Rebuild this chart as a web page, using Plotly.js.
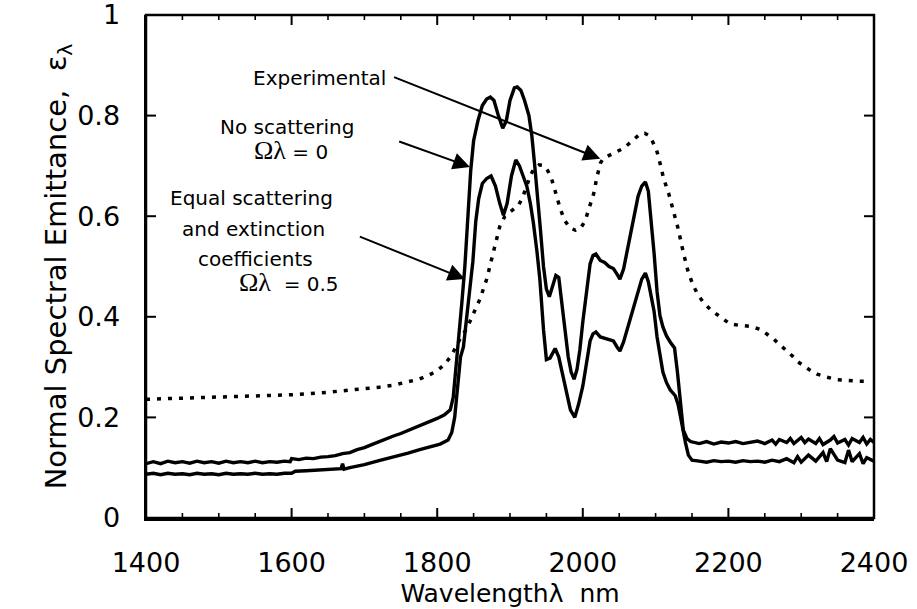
<!DOCTYPE html>
<html>
<head>
<meta charset="utf-8">
<script src="https://cdn.plot.ly/plotly-3.0.1.min.js"></script>
<style>html,body{margin:0;padding:0;background:#fff;}#chart{width:917px;height:609px;}</style>
</head>
<body>
<div id="chart"></div>
<script>
// ---- Data ----
const xTickVals = [1400, 1600, 1800, 2000, 2200, 2400];
const yTickVals = [0, 0.2, 0.4, 0.6, 0.8, 1];
const xMinorStep = 50;

// No scattering, Omega_lambda = 0 (upper solid curve)
const noScatX = [1400,1410,1420,1430,1440,1450,1460,1470,1480,1490,1500,1510,1520,1530,1540,1550,1560,1570,1580,1590,1598,1600,1610,1620,1630,1640,1650,1660,1670,1680,1690,1700,1710,1720,1730,1740,1750,1760,1770,1780,1790,1800,1810,1818,1822,1826,1830,1834,1838,1842,1846,1850,1856,1862,1868,1873,1878,1884,1890,1895,1900,1906,1910,1915,1920,1926,1930,1934,1938,1942,1946,1950,1954,1958,1963,1967,1971,1975,1980,1984,1988,1992,1996,2000,2005,2010,2014,2018,2024,2030,2036,2042,2047,2051,2056,2061,2066,2071,2076,2081,2086,2090,2094,2098,2102,2106,2110,2115,2120,2126,2130,2134,2138,2143,2148,2160,2170,2180,2190,2200,2210,2220,2230,2240,2250,2260,2265,2270,2280,2285,2290,2300,2305,2310,2320,2325,2330,2340,2345,2350,2360,2365,2370,2380,2385,2390,2395,2400];
const noScatY = [0.108,0.112,0.108,0.113,0.110,0.112,0.109,0.113,0.110,0.112,0.109,0.113,0.110,0.112,0.110,0.113,0.110,0.112,0.111,0.113,0.112,0.118,0.116,0.119,0.118,0.121,0.122,0.124,0.128,0.130,0.136,0.140,0.146,0.152,0.157,0.163,0.168,0.174,0.179,0.186,0.192,0.198,0.205,0.215,0.240,0.300,0.360,0.430,0.500,0.600,0.690,0.750,0.790,0.820,0.833,0.837,0.830,0.800,0.775,0.790,0.830,0.855,0.857,0.850,0.830,0.800,0.760,0.700,0.640,0.570,0.500,0.455,0.440,0.460,0.482,0.478,0.430,0.380,0.320,0.290,0.276,0.295,0.335,0.390,0.450,0.505,0.522,0.525,0.512,0.508,0.500,0.496,0.485,0.475,0.495,0.530,0.565,0.600,0.640,0.660,0.668,0.650,0.590,0.525,0.450,0.402,0.380,0.362,0.350,0.338,0.290,0.230,0.175,0.158,0.152,0.148,0.152,0.147,0.151,0.149,0.152,0.148,0.150,0.153,0.148,0.155,0.147,0.156,0.150,0.158,0.148,0.160,0.150,0.157,0.148,0.158,0.146,0.155,0.162,0.149,0.156,0.145,0.158,0.150,0.160,0.147,0.156,0.150];

// Equal scattering and extinction coefficients, Omega_lambda = 0.5 (lower solid curve)
const eqScatX = [1400,1410,1420,1430,1440,1450,1460,1470,1480,1490,1500,1510,1520,1530,1540,1550,1560,1570,1580,1590,1600,1605,1620,1640,1660,1668,1670,1672,1680,1700,1720,1740,1760,1776,1790,1804,1815,1820,1824,1828,1832,1836,1840,1845,1849,1853,1857,1862,1868,1874,1880,1886,1891,1896,1902,1908,1913,1918,1923,1928,1932,1937,1941,1946,1950,1955,1962,1967,1973,1978,1983,1989,1994,2000,2005,2010,2014,2018,2024,2030,2036,2042,2047,2051,2056,2061,2066,2071,2076,2081,2086,2090,2094,2098,2102,2106,2110,2115,2120,2127,2131,2134,2138,2141,2145,2150,2160,2170,2180,2190,2200,2210,2220,2230,2240,2250,2260,2270,2280,2290,2295,2300,2310,2320,2330,2335,2340,2350,2360,2365,2370,2380,2385,2390,2400];
const eqScatY = [0.087,0.089,0.086,0.089,0.087,0.088,0.086,0.089,0.087,0.088,0.086,0.089,0.087,0.088,0.087,0.089,0.087,0.088,0.087,0.089,0.089,0.093,0.094,0.095,0.097,0.098,0.108,0.097,0.100,0.106,0.114,0.121,0.129,0.136,0.141,0.147,0.155,0.170,0.200,0.260,0.320,0.340,0.390,0.450,0.510,0.590,0.635,0.665,0.675,0.680,0.660,0.625,0.602,0.625,0.680,0.712,0.700,0.680,0.660,0.625,0.588,0.530,0.475,0.375,0.315,0.318,0.337,0.320,0.278,0.250,0.215,0.200,0.225,0.262,0.310,0.352,0.366,0.370,0.360,0.357,0.354,0.352,0.340,0.332,0.350,0.375,0.400,0.430,0.455,0.475,0.487,0.470,0.440,0.410,0.360,0.322,0.290,0.269,0.255,0.243,0.225,0.203,0.170,0.150,0.125,0.115,0.113,0.111,0.114,0.112,0.113,0.111,0.114,0.112,0.113,0.111,0.115,0.112,0.118,0.110,0.122,0.111,0.125,0.113,0.130,0.112,0.138,0.115,0.110,0.135,0.112,0.128,0.108,0.120,0.113];

// Experimental (dotted curve)
const expX = [1400,1450,1500,1550,1600,1650,1680,1700,1720,1740,1760,1775,1790,1800,1810,1818,1826,1832,1840,1845,1852,1859,1868,1877,1886,1893,1900,1906,1912,1918,1924,1928,1933,1940,1946,1952,1957,1963,1969,1975,1982,1990,1996,2003,2010,2015,2019,2024,2028,2038,2047,2056,2065,2072,2079,2085,2090,2096,2102,2107,2111,2118,2124,2131,2138,2145,2152,2159,2166,2175,2184,2193,2202,2215,2230,2244,2253,2262,2271,2280,2288,2294,2303,2312,2322,2335,2350,2365,2380,2395];
const expY = [0.236,0.238,0.240,0.242,0.245,0.250,0.254,0.257,0.260,0.264,0.270,0.276,0.285,0.293,0.305,0.320,0.340,0.358,0.375,0.390,0.412,0.436,0.475,0.529,0.580,0.600,0.608,0.614,0.622,0.640,0.665,0.681,0.695,0.702,0.701,0.690,0.675,0.645,0.615,0.592,0.577,0.572,0.574,0.590,0.621,0.645,0.675,0.705,0.715,0.722,0.727,0.735,0.746,0.756,0.764,0.765,0.761,0.748,0.728,0.700,0.675,0.645,0.615,0.575,0.528,0.488,0.461,0.442,0.428,0.415,0.405,0.395,0.386,0.383,0.381,0.375,0.366,0.356,0.344,0.333,0.322,0.312,0.302,0.294,0.286,0.280,0.275,0.273,0.272,0.272];

// Labels
const xTitle = 'Wavelength\u03bb  nm';
const yTitle = 'Normal Spectral Emittance,  \u03b5<sub>\u03bb</sub>';

const FONT = 'DejaVu Sans, sans-serif';
const W = 917, H = 609, ML = 146, MR = 43, MT = 15, MB = 91;
const plotW = W - ML - MR, plotH = H - MT - MB;
const xRange = [1400, 2400], yRange = [0, 1];

const traces = [
  {x: expX, y: expY, type: 'scatter', mode: 'lines', name: 'Experimental',
   line: {color: '#000', width: 3.5, dash: '4px,7px'}},
  {x: noScatX, y: noScatY, type: 'scatter', mode: 'lines', name: 'No scattering',
   line: {color: '#000', width: 3.4}},
  {x: eqScatX, y: eqScatY, type: 'scatter', mode: 'lines', name: 'Equal scattering',
   line: {color: '#000', width: 3.4}}
];

function txt(x, y, text, size) {
  return {x: x, y: y, xref: 'x', yref: 'y', text: text, showarrow: false,
          font: {family: FONT, size: size || 20, color: '#000'}, xanchor: 'center', yanchor: 'middle'};
}
function arrow(x, y, ax, ay) {
  return {x: x, y: y, ax: ax, ay: ay, xref: 'x', yref: 'y', axref: 'x', ayref: 'y',
          text: ' ', font: {size: 2}, showarrow: true, arrowhead: 2, arrowsize: 1.7, arrowwidth: 2, arrowcolor: '#000',
          standoff: 0, startstandoff: 0};
}
const OM = '<span style="font-family:Liberation Serif;font-size:26px">\u03a9\u03bb</span>';

const annotations = [
  txt(1639, 0.874, 'Experimental'),
  txt(1593, 0.778, 'No scattering'),
  txt(1599, 0.731, OM + ' = 0'),
  txt(1545, 0.637, 'Equal scattering'),
  txt(1547, 0.575, 'and extinction'),
  txt(1551, 0.515, 'coefficients'),
  txt(1597, 0.469, OM + '  = 0.5'),
  arrow(2024, 0.714, 1738, 0.878),
  arrow(1845, 0.698, 1745, 0.750),
  arrow(1838, 0.475, 1691, 0.561)
];

// Frame and inside tick marks on all four sides, in paper coordinates (not clipped)
const shapes = [{type: 'rect', xref: 'paper', yref: 'paper', x0: 0, x1: 1, y0: 0, y1: 1,
  line: {color: '#000', width: 2.5}, fillcolor: 'rgba(0,0,0,0)', layer: 'above'}];
function xTick(v, len, w) {
  const f = (v - xRange[0]) / (xRange[1] - xRange[0]);
  const l = len / plotH;
  shapes.push({type: 'line', xref: 'paper', yref: 'paper', x0: f, x1: f, y0: 0, y1: l,
    line: {color: '#000', width: w}, layer: 'above'});
  shapes.push({type: 'line', xref: 'paper', yref: 'paper', x0: f, x1: f, y0: 1, y1: 1 - l,
    line: {color: '#000', width: w}, layer: 'above'});
}
function yTick(v, len, w) {
  const f = (v - yRange[0]) / (yRange[1] - yRange[0]);
  const l = len / plotW;
  shapes.push({type: 'line', xref: 'paper', yref: 'paper', y0: f, y1: f, x0: 0, x1: l,
    line: {color: '#000', width: w}, layer: 'above'});
  shapes.push({type: 'line', xref: 'paper', yref: 'paper', y0: f, y1: f, x0: 1, x1: 1 - l,
    line: {color: '#000', width: w}, layer: 'above'});
}
for (let v = xRange[0] + xMinorStep; v < xRange[1]; v += xMinorStep) {
  if (xTickVals.indexOf(v) >= 0) xTick(v, 10, 2); else xTick(v, 5, 1.6);
}
yTickVals.slice(1, -1).forEach(v => yTick(v, 10, 2));

const layout = {
  width: W, height: H,
  margin: {l: ML, r: MR, t: MT, b: MB},
  showlegend: false,
  xaxis: {
    range: xRange, tickvals: xTickVals, ticktext: xTickVals.map(String),
    ticks: '', showline: true, linecolor: '#000', linewidth: 2.5,
    showgrid: false, zeroline: false,
    tickfont: {family: FONT, size: 27, color: '#000'},
    ticklabelstandoff: 19, ticklabeloverflow: 'allow',
    title: {text: xTitle, font: {family: FONT, size: 25, color: '#000'}, standoff: 8}
  },
  yaxis: {
    range: yRange, tickvals: yTickVals, ticktext: ['0', '0.2', '0.4', '0.6', '0.8', '1'],
    ticks: '', showline: true, linecolor: '#000', linewidth: 2.5,
    showgrid: false, zeroline: false,
    tickfont: {family: FONT, size: 27, color: '#000'},
    ticklabelstandoff: 18, ticklabeloverflow: 'allow',
    title: {text: yTitle, font: {family: FONT, size: 29, color: '#000'}, standoff: 2}
  },
  shapes: shapes,
  annotations: annotations
};

Plotly.newPlot('chart', traces, layout, {staticPlot: true, displayModeBar: false});
</script>
</body>
</html>
